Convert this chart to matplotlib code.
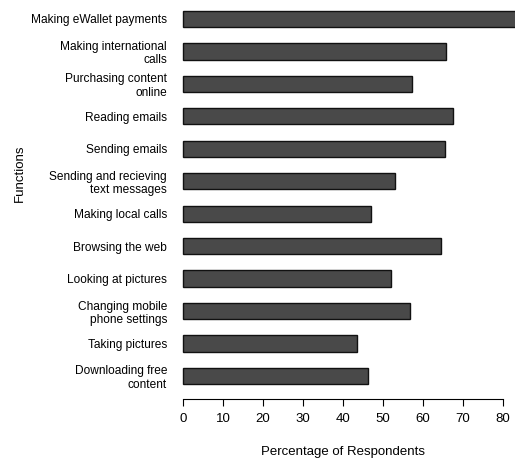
import matplotlib.pyplot as plt

# categories top to bottom
functions = [
    "Making eWallet payments",
    "Making international\ncalls",
    "Purchasing content\nonline",
    "Reading emails",
    "Sending emails",
    "Sending and recieving\ntext messages",
    "Making local calls",
    "Browsing the web",
    "Looking at pictures",
    "Changing mobile\nphone settings",
    "Taking pictures",
    "Downloading free\ncontent",
]
percent = [84, 65.8, 57.3, 67.4, 65.6, 52.9, 46.9, 64.5, 52.1, 56.8, 43.6, 46.2]
xticks = [0, 10, 20, 30, 40, 50, 60, 70, 80]

plt.rcParams['font.family'] = ['Liberation Sans', 'DejaVu Sans']

W, H = 515, 462
fig = plt.figure(figsize=(W / 100, H / 100), dpi=100)

# axes placed in pixel terms: x 0..80 -> 183..503, y from 0 to 399 px
left, right = 183, 503
top, bottom = 0, 399
ax = fig.add_axes([left / W, 1 - bottom / H, (right - left) / W, (bottom - top) / H])

step = 32.45
first = 19
pos = list(range(len(functions)))
bars = ax.barh(pos, percent, height=0.5, color='#494949', edgecolor='#111111',
               linewidth=1.0)
for b in bars:
    b.set_clip_on(False)

ax.set_xlim(0, 80)
ax.set_ylim((bottom - first) / step, (top - first) / step)

for s in ['top', 'right', 'left']:
    ax.spines[s].set_visible(False)
ax.spines['bottom'].set_bounds(0, 80)
ax.spines['bottom'].set_linewidth(0.8)

ax.set_xticks(xticks)
ax.set_xticklabels([str(t) for t in xticks], fontsize=9.5)
ax.tick_params(axis='x', direction='out', length=5, width=0.8, pad=5)

ax.set_yticks(pos)
ax.set_yticklabels(functions, fontsize=8.6, linespacing=1.15)
ax.tick_params(axis='y', length=0, pad=11.5)

fig.text(343 / W, 1 - 452 / H, "Percentage of Respondents", ha='center',
         va='center', fontsize=9.5)
fig.text(20 / W, 1 - 173 / H, "Functions", ha='center', va='center',
         rotation=90, fontsize=9.5)

fig.savefig("out.png", dpi=100)
